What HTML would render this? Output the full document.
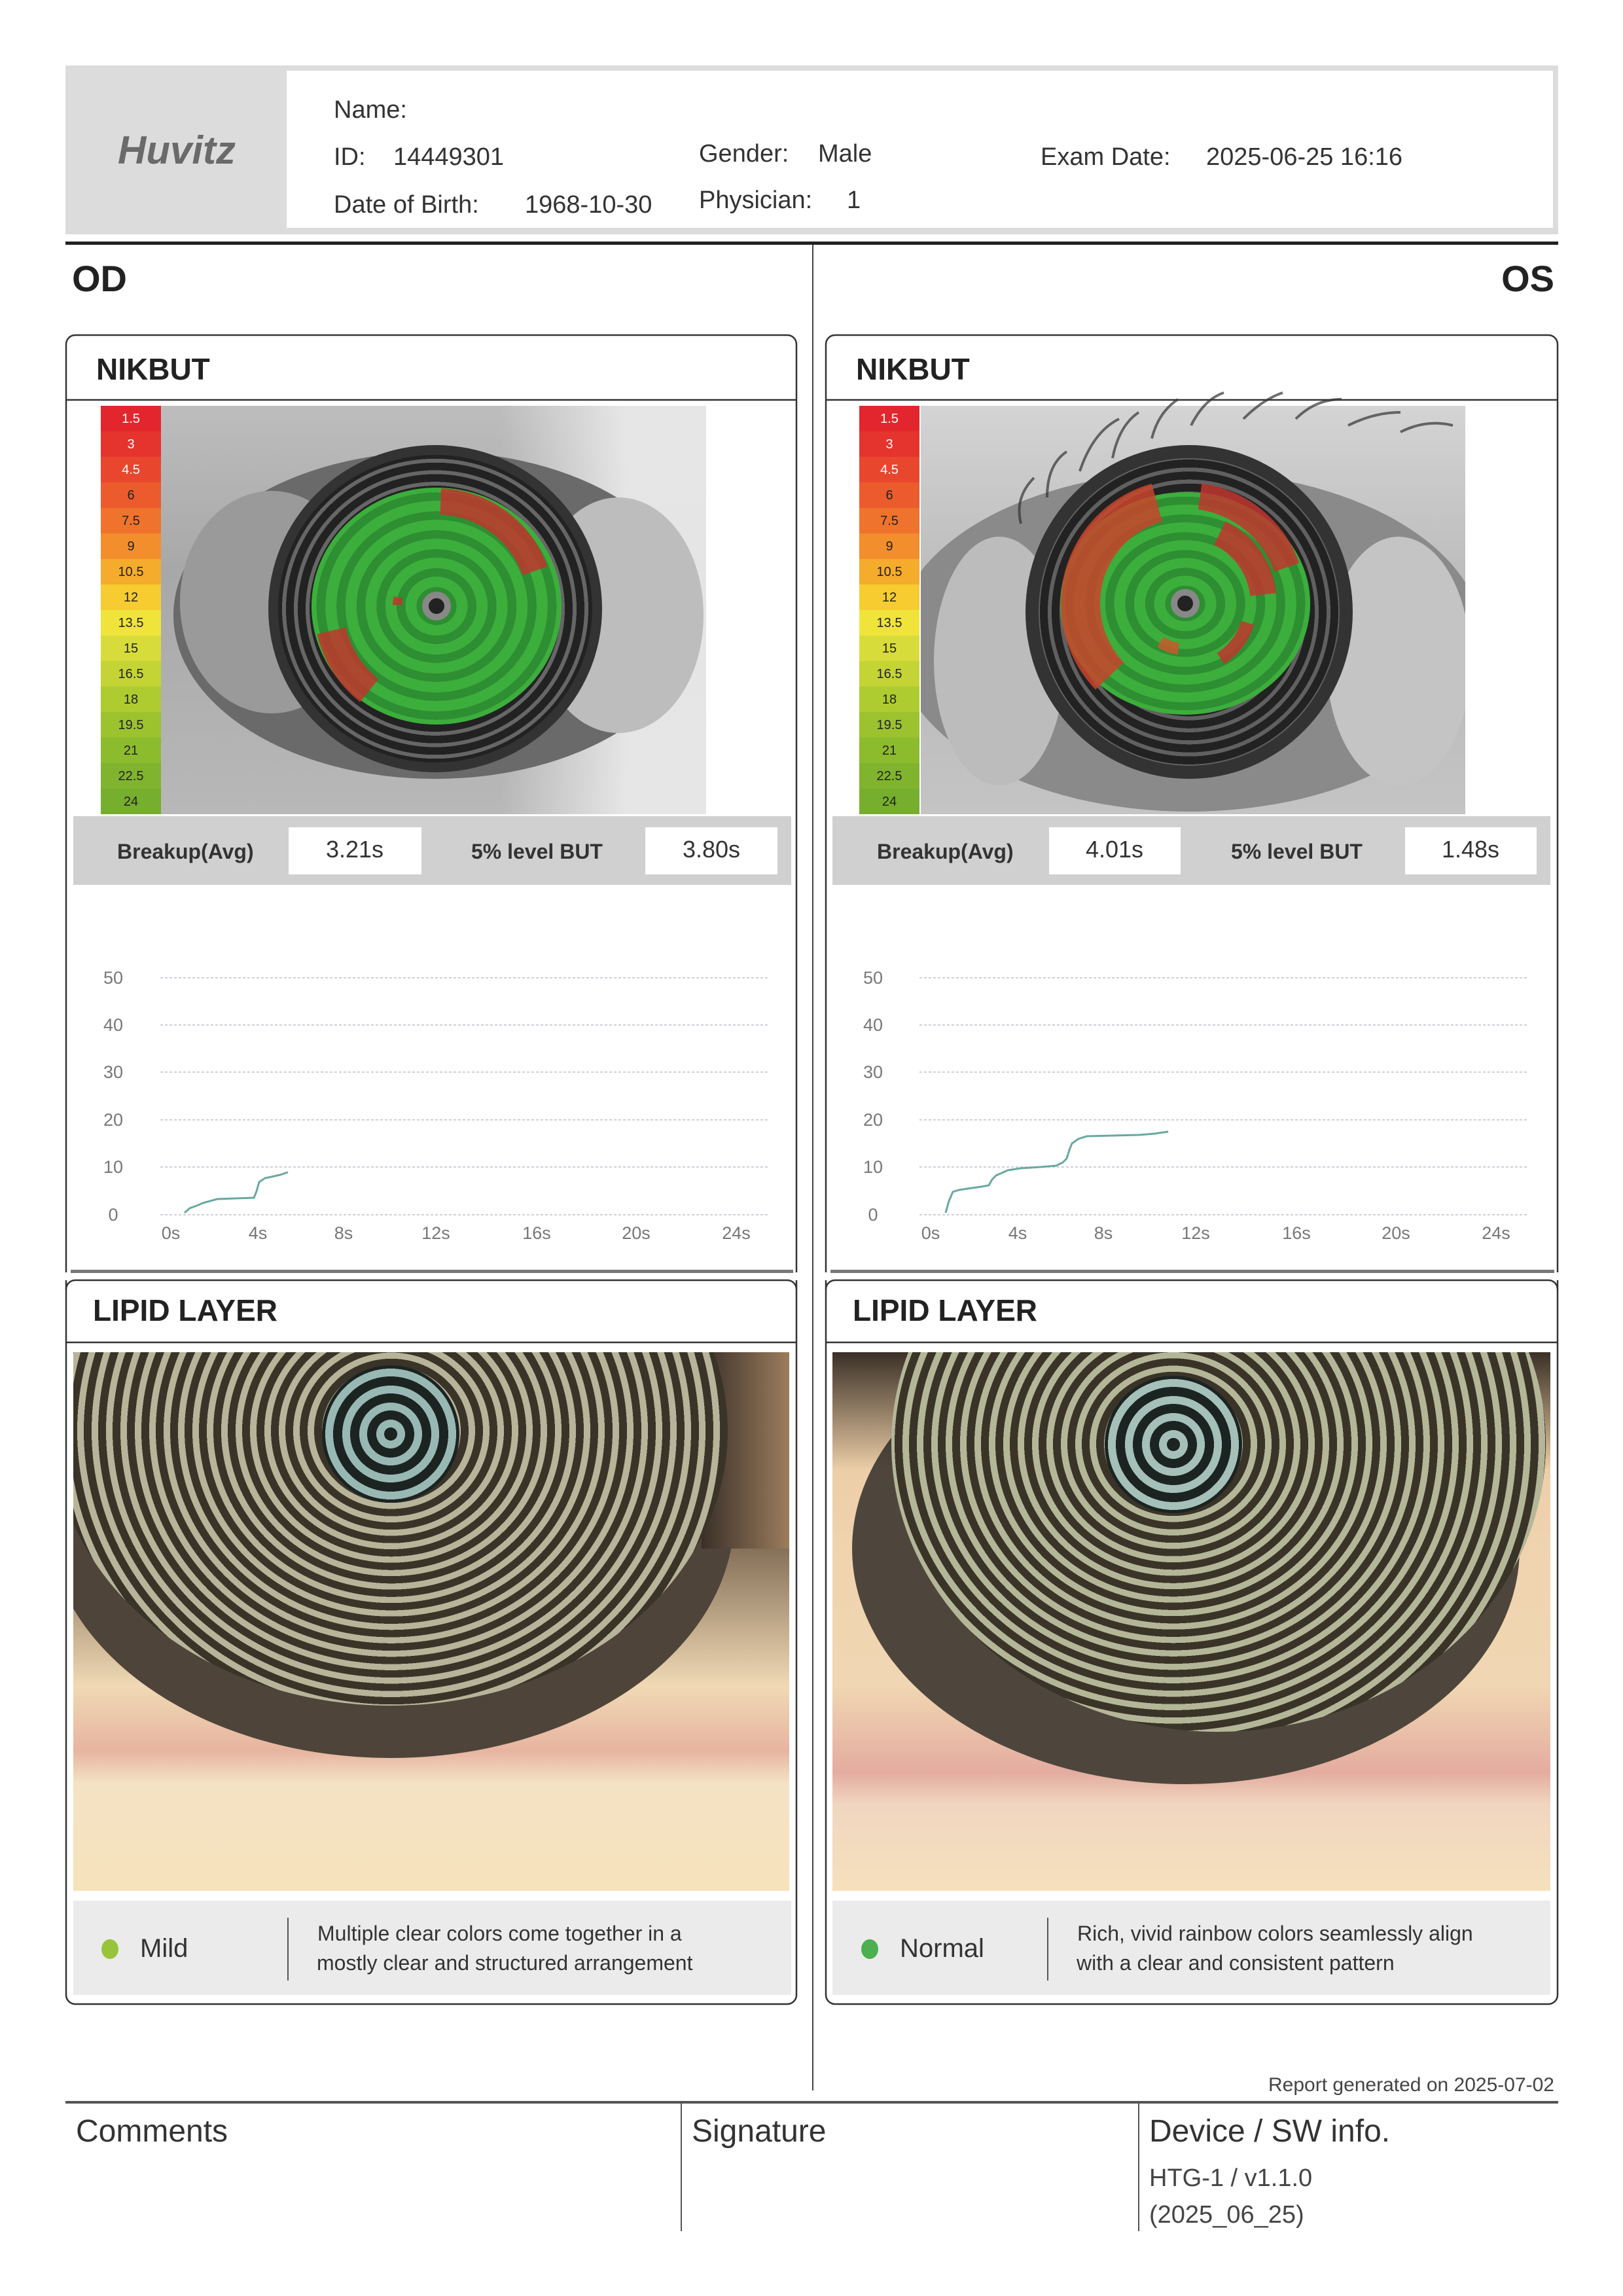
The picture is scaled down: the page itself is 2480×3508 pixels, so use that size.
<!DOCTYPE html>
<html><head><meta charset="utf-8">
<style>
*{margin:0;padding:0;box-sizing:border-box}
body{width:2480px;height:3508px;background:#fff;position:relative;overflow:hidden;font-family:"Liberation Sans",sans-serif;color:#333}
.a{position:absolute}
.img{position:absolute;overflow:hidden}
</style></head><body>

<!-- header -->
<div class="a" style="left:100px;top:100px;width:2281px;height:258px;background:#dcdcdc"></div>
<div class="a" style="left:438px;top:108px;width:1935px;height:240px;background:#fff"></div>
<div class="a" style="left:100px;top:369px;width:2281px;height:5px;background:#222"></div>
<div class="a" style="left:1241px;top:374px;width:2px;height:2820px;background:#444"></div>

<!-- NIKBUT left image -->
<div class="img" style="left:245px;top:620px;width:834px;height:624px;background:linear-gradient(180deg,#bdbdbd 0%,#a8a8a8 40%,#b8b8b8 100%)">
  <div class="a" style="left:520px;top:0;width:320px;height:624px;background:linear-gradient(90deg,rgba(230,230,230,0) 0%,rgba(235,235,235,.9) 60%)"></div>
  <div class="a" style="left:20px;top:70px;width:800px;height:500px;border-radius:50%;background:#6a6a6a"></div>
  <div class="a" style="left:30px;top:130px;width:280px;height:340px;border-radius:50%;background:#9a9a9a"></div>
  <div class="a" style="left:570px;top:140px;width:260px;height:360px;border-radius:50%;background:#bdbdbd"></div>
  <div class="a" style="left:165px;top:60px;width:510px;height:500px;border-radius:50%;background:#333"></div>
  <div class="a" style="left:180px;top:75px;width:480px;height:470px;border-radius:50%;background:repeating-radial-gradient(ellipse at center,#222 0 12px,#666 12px 18px)"></div>
</div>
<!-- NIKBUT right image -->
<div class="img" style="left:1407px;top:620px;width:832px;height:624px;background:linear-gradient(180deg,#d4d4d4 0%,#b8b8b8 50%,#c4c4c4 100%)">
  <div class="a" style="left:-40px;top:100px;width:900px;height:520px;border-radius:50%;background:#8a8a8a"></div>
  <div class="a" style="left:20px;top:200px;width:200px;height:380px;border-radius:50%;background:#bcbcbc"></div>
  <div class="a" style="left:620px;top:200px;width:220px;height:380px;border-radius:50%;background:#c4c4c4"></div>
  <div class="a" style="left:160px;top:60px;width:500px;height:510px;border-radius:50%;background:#333"></div>
  <div class="a" style="left:180px;top:80px;width:460px;height:470px;border-radius:50%;background:repeating-radial-gradient(ellipse at center,#222 0 12px,#606060 12px 18px)"></div>
</div>

<!-- Lipid left -->
<div class="img" style="left:112px;top:2066px;width:1094px;height:823px;background:linear-gradient(180deg,#5a4a3a 0%,#6a5642 30%,#f0d9b4 62%,#e7b4a0 74%,#f4e2c4 80%,#f6e3bc 100%)">
  <div class="a" style="left:-40px;top:-120px;width:1050px;height:740px;border-radius:50%;background:#4e443a"></div>
  <div class="a" style="left:960px;top:0;width:140px;height:300px;background:linear-gradient(90deg,#3a3028,#a08060)"></div>
  <div class="a" style="left:-30px;top:-300px;width:1030px;height:840px;border-radius:50%;background:repeating-radial-gradient(ellipse 600px 560px at 516px 420px,#3a3428 0 8px,#b8b49a 8px 18px,#3a3428 18px 22px)"></div>
  <div class="a" style="left:380px;top:20px;width:210px;height:210px;border-radius:50%;background:repeating-radial-gradient(circle at center,#1c2422 0 10px,#98b8b4 10px 22px,#1c2422 22px 26px)"></div>
</div>
<!-- Lipid right -->
<div class="img" style="left:1272px;top:2066px;width:1097px;height:823px;background:linear-gradient(180deg,#e8c8a0 0%,#f0d4b0 40%,#f0d6b2 62%,#e4aca0 78%,#f0d6c0 84%,#f6e0bc 100%)">
  <div class="a" style="left:30px;top:-60px;width:1020px;height:720px;border-radius:50%;background:#4e463c"></div>
  <div class="a" style="left:0;top:0;width:1097px;height:180px;background:linear-gradient(180deg,rgba(40,32,26,.9),rgba(40,32,26,0))"></div>
  <div class="a" style="left:90px;top:-300px;width:1000px;height:880px;border-radius:50%;background:repeating-radial-gradient(ellipse 600px 560px at 431px 440px,#3a3428 0 8px,#b4b698 8px 18px,#3a3428 18px 22px)"></div>
  <div class="a" style="left:416px;top:36px;width:210px;height:210px;border-radius:50%;background:repeating-radial-gradient(circle at center,#1c2422 0 10px,#a4c0b8 10px 22px,#1c2422 22px 26px)"></div>
</div>

<svg class="a" style="left:0;top:0" width="2480" height="3508" xmlns="http://www.w3.org/2000/svg" font-family="Liberation Sans, sans-serif">
<defs>
  <radialGradient id="ring" gradientUnits="objectBoundingBox" cx="0.5" cy="0.5" r="0.08" spreadMethod="repeat">
    <stop offset="0" stop-color="#3cae3c"/><stop offset="0.55" stop-color="#3cae3c"/><stop offset="0.56" stop-color="#2e8e32"/><stop offset="1" stop-color="#2e8e32"/>
  </radialGradient>
</defs>
<text x="270" y="250" font-size="60" font-weight="bold" font-style="italic" fill="#6a6a6a" text-anchor="middle">Huvitz</text>
<g font-size="38" fill="#333">
<text x="510" y="180">Name:</text>
<text x="510" y="252">ID:</text><text x="601" y="252">14449301</text>
<text x="510" y="325">Date of Birth:</text><text x="802" y="325">1968-10-30</text>
<text x="1068" y="247">Gender:</text><text x="1250" y="247">Male</text>
<text x="1068" y="318">Physician:</text><text x="1294" y="318">1</text>
<text x="1590" y="252">Exam Date:</text><text x="1843" y="252">2025-06-25 16:16</text>
</g>
<text x="110" y="445" font-size="56" font-weight="bold" fill="#222">OD</text>
<text x="2375" y="445" font-size="56" font-weight="bold" fill="#222" text-anchor="end">OS</text>

<g fill="none" stroke="#333" stroke-width="2.5">
<path d="M101 1944 V526 a14 14 0 0 1 14 -14 H1203 a14 14 0 0 1 14 14 V1944"/>
<path d="M1262 1944 V526 a14 14 0 0 1 14 -14 H2366 a14 14 0 0 1 14 14 V1944"/>
<line x1="101" y1="611" x2="1217" y2="611"/><line x1="1262" y1="611" x2="2380" y2="611"/>
<path d="M101 1956 V3048 a14 14 0 0 0 14 14 H1203 a14 14 0 0 0 14 -14 V1956"/>
<path d="M1262 1956 V3048 a14 14 0 0 0 14 14 H2366 a14 14 0 0 0 14 -14 V1956"/>
<path d="M101 1970 a14 14 0 0 1 14 -14 H1203 a14 14 0 0 1 14 14"/>
<path d="M1262 1970 a14 14 0 0 1 14 -14 H2366 a14 14 0 0 1 14 14"/>
<line x1="101" y1="2051" x2="1217" y2="2051"/><line x1="1262" y1="2051" x2="2380" y2="2051"/>
</g>
<rect x="108" y="1940" width="1104" height="5" fill="#777"/>
<rect x="1269" y="1940" width="1106" height="5" fill="#777"/>
<text x="147" y="580" font-size="46" font-weight="bold" fill="#222">NIKBUT</text>
<text x="1308" y="580" font-size="46" font-weight="bold" fill="#222">NIKBUT</text>
<text x="142" y="2018" font-size="46" font-weight="bold" fill="#222">LIPID LAYER</text>
<text x="1303" y="2018" font-size="46" font-weight="bold" fill="#222">LIPID LAYER</text>

<g id="cb">
<rect x="154" y="620" width="92" height="39" fill="#e3262e"/>
<rect x="154" y="659" width="92" height="39" fill="#e5342d"/>
<rect x="154" y="698" width="92" height="39" fill="#e8472d"/>
<rect x="154" y="737" width="92" height="39" fill="#eb5b2d"/>
<rect x="154" y="776" width="92" height="39" fill="#ef732c"/>
<rect x="154" y="815" width="92" height="39" fill="#f28e2c"/>
<rect x="154" y="854" width="92" height="39" fill="#f5ab2c"/>
<rect x="154" y="893" width="92" height="39" fill="#f6cc30"/>
<rect x="154" y="932" width="92" height="39" fill="#f0e43a"/>
<rect x="154" y="971" width="92" height="39" fill="#d8dc3a"/>
<rect x="154" y="1010" width="92" height="39" fill="#c4d434"/>
<rect x="154" y="1049" width="92" height="39" fill="#aecb30"/>
<rect x="154" y="1088" width="92" height="39" fill="#9cc22e"/>
<rect x="154" y="1127" width="92" height="39" fill="#8cbb2e"/>
<rect x="154" y="1166" width="92" height="39" fill="#80b42e"/>
<rect x="154" y="1205" width="92" height="39" fill="#76ae2e"/>
<g font-size="20" text-anchor="middle" fill="#222">
<text x="200" y="646" fill="#fff">1.5</text><text x="200" y="685" fill="#fff">3</text><text x="200" y="724" fill="#fff">4.5</text>
<text x="200" y="763">6</text><text x="200" y="802">7.5</text><text x="200" y="841">9</text><text x="200" y="880">10.5</text>
<text x="200" y="919">12</text><text x="200" y="958">13.5</text><text x="200" y="997">15</text><text x="200" y="1036">16.5</text>
<text x="200" y="1075">18</text><text x="200" y="1114">19.5</text><text x="200" y="1153">21</text><text x="200" y="1192">22.5</text><text x="200" y="1231">24</text>
</g>
</g>
<use href="#cb" x="1159"/>

<ellipse cx="667" cy="926" rx="191" ry="181" fill="url(#ring)"/>
<g fill="none" stroke="#c0372e" opacity=".85">
<circle cx="667" cy="926" r="160" stroke-width="40" stroke-dasharray="190 2000" stroke-dashoffset="-760"/>
<circle cx="667" cy="926" r="165" stroke-width="45" stroke-dasharray="110 2000" stroke-dashoffset="-370"/>
<circle cx="667" cy="926" r="110" stroke-width="20" stroke-dasharray="35 2000" stroke-dashoffset="-700"/>
<circle cx="667" cy="926" r="60" stroke-width="14" stroke-dasharray="12 2000" stroke-dashoffset="-190"/>
</g>
<circle cx="667" cy="926" r="22" fill="#888"/><circle cx="667" cy="926" r="12" fill="#222"/>

<ellipse cx="1811" cy="922" rx="191" ry="170" fill="url(#ring)"/>
<g fill="none" opacity=".85">
<circle cx="1811" cy="922" r="160" stroke="#c8452c" stroke-width="60" stroke-dasharray="330 2000" stroke-dashoffset="-380"/>
<circle cx="1811" cy="922" r="165" stroke="#c0372e" stroke-width="40" stroke-dasharray="180 2000" stroke-dashoffset="-800"/>
<circle cx="1811" cy="922" r="120" stroke="#c0372e" stroke-width="40" stroke-dasharray="120 2000" stroke-dashoffset="-620"/>
<circle cx="1811" cy="922" r="100" stroke="#c0372e" stroke-width="20" stroke-dasharray="70 2000" stroke-dashoffset="-30"/>
<circle cx="1811" cy="922" r="70" stroke="#c85a2c" stroke-width="18" stroke-dasharray="30 2000" stroke-dashoffset="-120"/>
</g>
<circle cx="1811" cy="922" r="22" fill="#888"/><circle cx="1811" cy="922" r="12" fill="#222"/>
<g stroke="#333" stroke-width="4" fill="none" opacity=".7">
<path d="M1650 720 q20 -60 60 -80 M1700 700 q10 -50 40 -70 M1760 670 q10 -40 40 -60 M1820 650 q20 -40 50 -50 M1900 640 q30 -30 60 -40 M1980 640 q30 -30 70 -30 M2060 650 q40 -20 80 -20 M2140 660 q40 -20 80 -10 M1600 760 q0 -50 30 -70 M1560 800 q-10 -40 20 -70"/>
</g>

<rect x="112" y="1247" width="1097" height="105" fill="#d0d0d0"/>
<rect x="441" y="1264" width="203" height="72" fill="#fff"/><rect x="986" y="1264" width="202" height="72" fill="#fff"/>
<rect x="1272" y="1247" width="1097" height="105" fill="#d0d0d0"/>
<rect x="1603" y="1264" width="201" height="72" fill="#fff"/><rect x="2147" y="1264" width="201" height="72" fill="#fff"/>
<g font-size="32" font-weight="bold" fill="#333">
<text x="179" y="1312">Breakup(Avg)</text><text x="720" y="1312">5% level BUT</text>
<text x="1340" y="1312">Breakup(Avg)</text><text x="1881" y="1312">5% level BUT</text>
</g>
<g font-size="36" fill="#333" text-anchor="middle">
<text x="542" y="1310">3.21s</text><text x="1087" y="1310">3.80s</text>
<text x="1703" y="1310">4.01s</text><text x="2247" y="1310">1.48s</text>
</g>

<g stroke="#cfcfd8" stroke-width="2" stroke-dasharray="4 3">
<line x1="245" x2="1174" y1="1494" y2="1494"/><line x1="245" x2="1174" y1="1566" y2="1566"/><line x1="245" x2="1174" y1="1638" y2="1638"/>
<line x1="245" x2="1174" y1="1711" y2="1711"/><line x1="245" x2="1174" y1="1783" y2="1783"/><line x1="245" x2="1174" y1="1856" y2="1856"/>
<line x1="1405" x2="2335" y1="1494" y2="1494"/><line x1="1405" x2="2335" y1="1566" y2="1566"/><line x1="1405" x2="2335" y1="1638" y2="1638"/>
<line x1="1405" x2="2335" y1="1711" y2="1711"/><line x1="1405" x2="2335" y1="1783" y2="1783"/><line x1="1405" x2="2335" y1="1856" y2="1856"/>
</g>
<g font-size="27" fill="#777" text-anchor="middle">
<text x="173" y="1503">50</text><text x="173" y="1575">40</text><text x="173" y="1647">30</text><text x="173" y="1720">20</text><text x="173" y="1792">10</text><text x="173" y="1865">0</text>
<text x="261" y="1893">0s</text><text x="394" y="1893">4s</text><text x="525" y="1893">8s</text><text x="666" y="1893">12s</text><text x="820" y="1893">16s</text><text x="972" y="1893">20s</text><text x="1125" y="1893">24s</text>
<text x="1334" y="1503">50</text><text x="1334" y="1575">40</text><text x="1334" y="1647">30</text><text x="1334" y="1720">20</text><text x="1334" y="1792">10</text><text x="1334" y="1865">0</text>
<text x="1422" y="1893">0s</text><text x="1555" y="1893">4s</text><text x="1686" y="1893">8s</text><text x="1827" y="1893">12s</text><text x="1981" y="1893">16s</text><text x="2133" y="1893">20s</text><text x="2286" y="1893">24s</text>
</g>
<polyline fill="none" stroke="#6aa8a0" stroke-width="3" points="282,1853 290,1846 301,1842 310,1838 332,1832 360,1831 388,1830 392,1820 396,1806 405,1800 415,1798 428,1795 440,1791"/>
<polyline fill="none" stroke="#6aa8a0" stroke-width="3" points="1445,1853 1450,1835 1456,1821 1466,1818 1479,1816 1500,1813 1511,1811 1516,1802 1522,1796 1540,1788 1559,1785 1590,1783 1614,1781 1624,1776 1630,1770 1634,1757 1638,1747 1648,1740 1661,1736 1700,1735 1741,1734 1765,1732 1785,1729"/>

<rect x="112" y="2904" width="1097" height="144" fill="#ebebeb"/>
<rect x="1272" y="2904" width="1097" height="144" fill="#ebebeb"/>
<line x1="440" y1="2930" x2="440" y2="3026" stroke="#555" stroke-width="2"/>
<line x1="1601" y1="2930" x2="1601" y2="3026" stroke="#555" stroke-width="2"/>
<ellipse cx="168" cy="2978" rx="13" ry="15" fill="#98c43c"/>
<ellipse cx="1329" cy="2978" rx="13" ry="15" fill="#4caf50"/>
<text x="214" y="2990" font-size="40" fill="#333">Mild</text>
<text x="1375" y="2990" font-size="40" fill="#333">Normal</text>
<g font-size="32" fill="#333">
<text x="485" y="2965">Multiple clear colors come together in a</text>
<text x="484" y="3010">mostly clear and structured arrangement</text>
<text x="1646" y="2965">Rich, vivid rainbow colors seamlessly align</text>
<text x="1645" y="3010">with a clear and consistent pattern</text>
</g>

<text x="2375" y="3195" font-size="30" fill="#444" text-anchor="end">Report generated on 2025-07-02</text>
<rect x="100" y="3210" width="2281" height="4" fill="#555"/>
<line x1="1041" y1="3214" x2="1041" y2="3409" stroke="#555" stroke-width="2"/>
<line x1="1740" y1="3214" x2="1740" y2="3409" stroke="#555" stroke-width="2"/>
<g font-size="48" fill="#333">
<text x="116" y="3272">Comments</text><text x="1057" y="3272">Signature</text><text x="1756" y="3272">Device / SW info.</text>
</g>
<text x="1756" y="3340" font-size="38" fill="#444">HTG-1 / v1.1.0</text>
<text x="1756" y="3396" font-size="38" fill="#444">(2025_06_25)</text>
</svg>
</body></html>
